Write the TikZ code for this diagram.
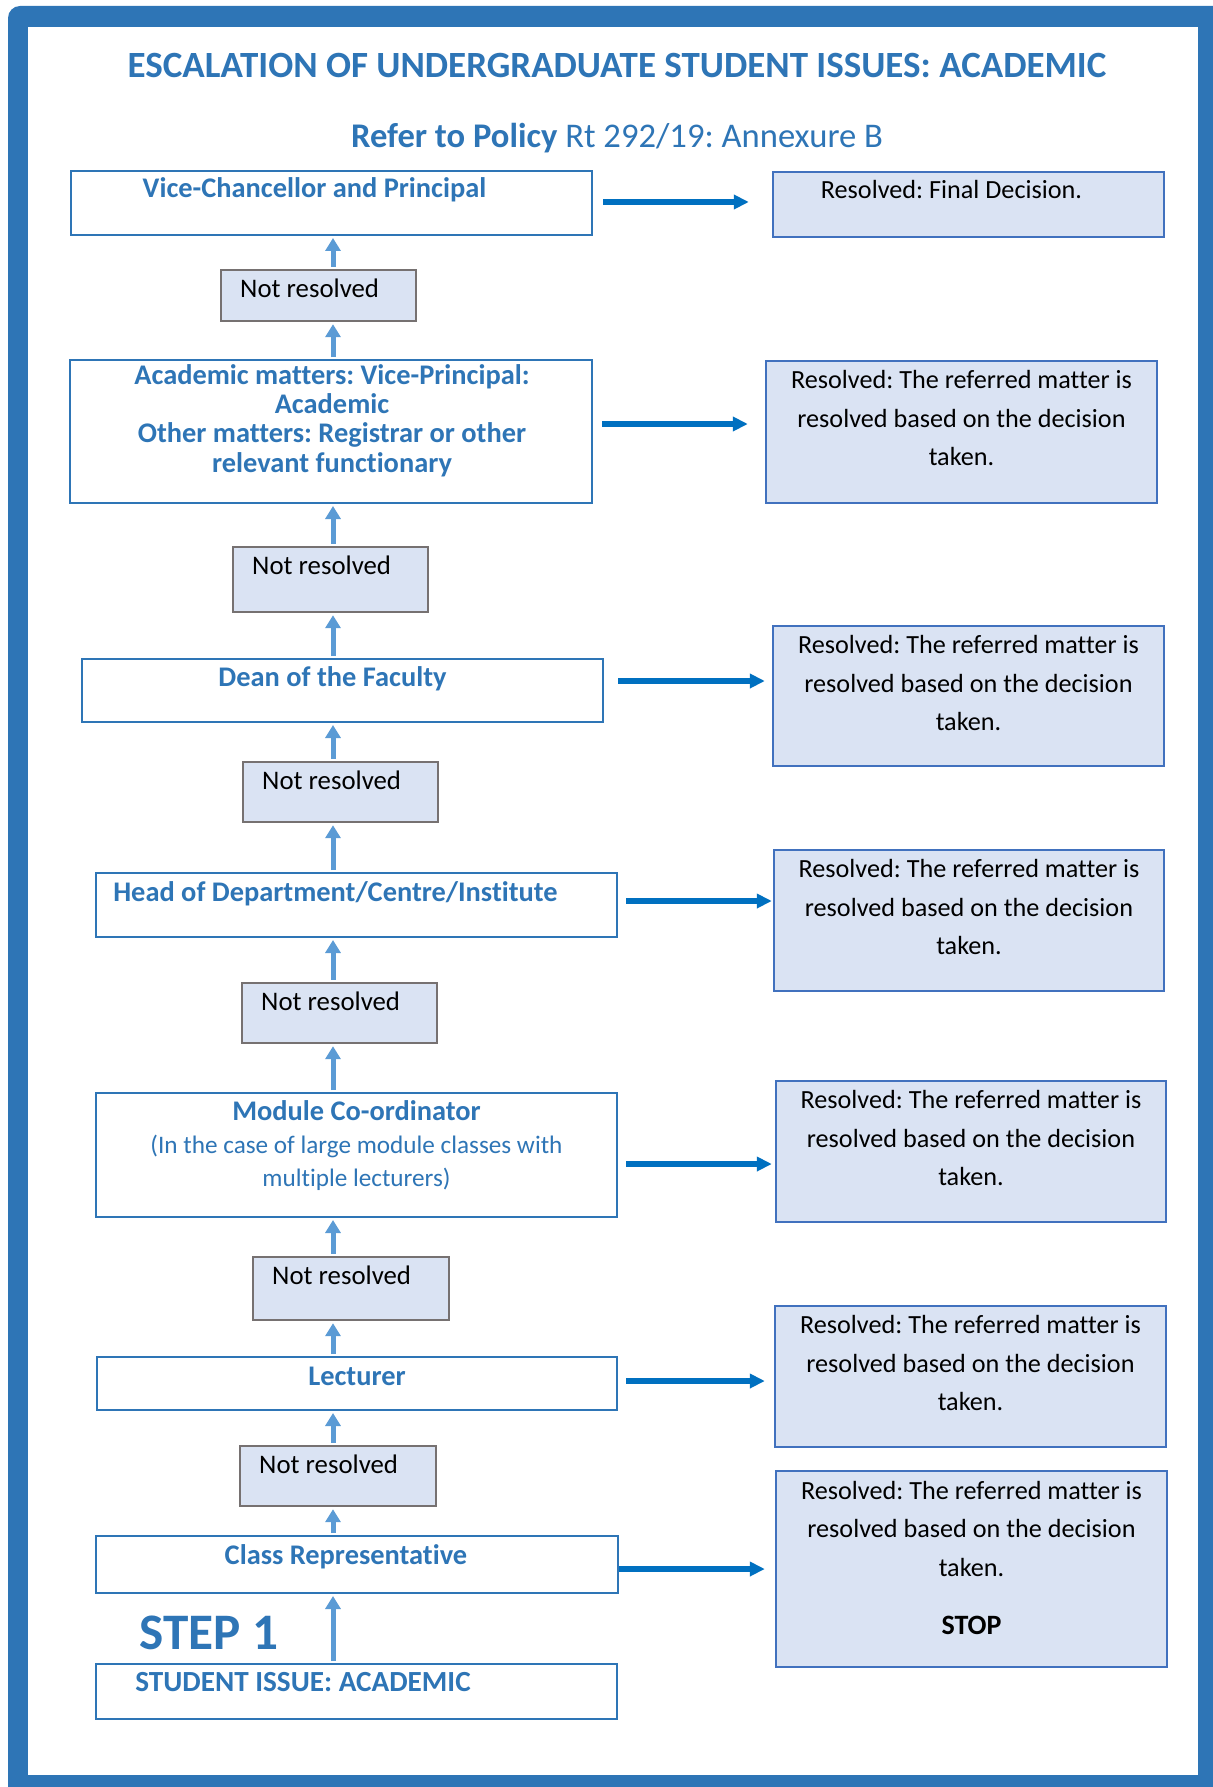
\documentclass[tikz,border=0pt]{standalone}
\usepackage{fontspec}
\setmainfont{Carlito}[Ligatures=NoCommon]
\frenchspacing
\usetikzlibrary{arrows.meta,calc,fit,positioning}
\definecolor{frameblue}{RGB}{46,117,182}
\definecolor{lineblue}{RGB}{65,113,190}
\definecolor{paleblue}{RGB}{218,227,243}
\definecolor{holdgrey}{RGB}{118,113,113}
\definecolor{upblue}{RGB}{91,155,213}
\definecolor{outblue}{RGB}{0,112,192}

\tikzset{
  stage/.style={draw=frameblue, line width=1pt, fill=white, inner sep=0pt},
  hold/.style={draw=holdgrey, line width=1.2pt, fill=paleblue, inner sep=0pt},
  outcome/.style={draw=lineblue, line width=1.2pt, fill=paleblue, inner sep=0pt},
  stagetxt/.style={anchor=base, inner sep=0pt, align=center, text=frameblue, font=\bfseries\fontsize{14.2}{14.65}\selectfont},
  holdtxt/.style={anchor=base west, inner sep=0pt, font=\fontsize{13.4}{16}\selectfont},
  outtxt/.style={anchor=base, inner sep=0pt, align=center, font=\fontsize{13.1}{19.25}\selectfont},
  upflow/.style={draw=upblue, line width=2.5pt, -{Triangle[width=7.5pt,length=6.5pt]}, shorten <=1pt, shorten >=1pt},
  outflow/.style={draw=outblue, line width=3pt, -{Triangle[width=7pt,length=7.5pt]}}
}

\begin{document}
\begin{tikzpicture}[x=0.5pt, y=-0.5pt]
    \useasboundingbox (0,0) rectangle (1213,1787);
    % frame
    \fill[frameblue] (1213,1787) -- (8,1787) [rounded corners=6pt] -- (8,6) [sharp corners] -- (1213,6) -- cycle;
    \fill[white] (28,27) rectangle (1198,1775);

    % headings
    \node[anchor=base, text=frameblue, font=\bfseries\fontsize{18.5}{22}\selectfont] (title) at (617,78) {ESCALATION OF UNDERGRADUATE STUDENT ISSUES: ACADEMIC};
    \node[anchor=base, text=frameblue, font=\fontsize{17.3}{20}\selectfont] (policy) at (617,148) {\textbf{Refer to Policy} Rt 292/19: Annexure B};

    % escalation steps
    \node[stage, fit={(71,171) (592,235)}] (vc) {};
    \node[stage, fit={(70,360) (592,503)}] (acad) {};
    \node[stage, fit={(82,659) (603,722)}] (dean) {};
    \node[stage, fit={(96,873) (617,937)}] (head) {};
    \node[stage, fit={(96,1093) (617,1217)}] (module) {};
    \node[stage, fit={(97,1357) (617,1410)}] (lecturer) {};
    \node[stage, fit={(96,1536) (618,1593)}] (classrep) {};
    \node[stage, fit={(96,1664) (617,1719)}] (student) {};

    % base of a multi-line text is its last line
    \node[stagetxt] (vc-txt) at ($(vc.north)+(-17,28)$) {Vice-Chancellor and Principal};
    \node[stagetxt] (acad-txt) at ($(acad.north)+(1,113)$) {Academic matters: Vice-Principal:\\Academic\\Other matters: Registrar or other\\relevant functionary};
    \node[stagetxt] (dean-txt) at ($(dean.north)+(-10,28)$) {Dean of the Faculty};
    \node[stagetxt] (head-txt) at ($(head.north)+(-21,29)$) {Head of Department/Centre/Institute};
    \node[stagetxt, font=\bfseries\fontsize{14.2}{16.5}\selectfont] (module-txt) at ($(module.north)+(0,94)$) {Module Co-ordinator\\{\mdseries\fontsize{12.6}{16.5}\selectfont (In the case of large module classes with}\\{\mdseries\fontsize{12.6}{16.5}\selectfont multiple lecturers)}};
    \node[stagetxt] (lecturer-txt) at ($(lecturer.north)+(0,29)$) {Lecturer};
    \node[stagetxt] (classrep-txt) at ($(classrep.north)+(-11,29)$) {Class Representative};
    \node[stagetxt, anchor=base west, font=\bfseries\fontsize{14.6}{16}\selectfont] (student-txt) at ($(student.north west)+(40,28)$) {STUDENT ISSUE: ACADEMIC};
    \node[anchor=base west, inner sep=0pt, text=frameblue, font=\bfseries\fontsize{25.6}{30}\selectfont] (step1) at (139,1649) {STEP 1};

    % not resolved
    \node[hold, fit={(221,270) (416,321)}] (nr1) {};
    \node[hold, fit={(233,547) (428,612)}] (nr2) {};
    \node[hold, fit={(243,762) (438,822)}] (nr3) {};
    \node[hold, fit={(242,983) (437,1043)}] (nr4) {};
    \node[hold, fit={(253,1257) (449,1320)}] (nr5) {};
    \node[hold, fit={(240,1446) (436,1506)}] (nr6) {};
    \foreach \n in {1,...,6}
        \node[holdtxt] (nr\n-txt) at ($(nr\n.north west)+(20,29)$) {Not resolved};

    % outcomes
    \node[outcome, fit={(773,172) (1164,237)}] (res1) {};
    \node[outcome, fit={(766,361) (1157,503)}] (res2) {};
    \node[outcome, fit={(773,626) (1164,766)}] (res3) {};
    \node[outcome, fit={(774,850) (1164,991)}] (res4) {};
    \node[outcome, fit={(776,1081) (1166,1222)}] (res5) {};
    \node[outcome, fit={(775,1306) (1166,1447)}] (res6) {};
    \node[outcome, fit={(776,1471) (1167,1667)}] (res7) {};

    \node[outtxt] (res1-txt) at ($(res1.north)+(-17,28)$) {Resolved: Final Decision.};
    \foreach \r in {2,...,6}
        \node[outtxt] (res\r-txt) at ($(res\r.north)+(0,106)$) {Resolved: The referred matter is\\resolved based on the decision\\taken.};
    \node[outtxt] (res7-txt) at ($(res7.north)+(0,165)$) {Resolved: The referred matter is\\resolved based on the decision\\taken.\\[10pt]{\bfseries\fontsize{14}{19.25}\selectfont STOP}};

    % upward chain
    \coordinate (spine) at (333,0);
    \foreach \lo/\hi in {student/classrep, classrep/nr6, nr6/lecturer, lecturer/nr5, nr5/module, module/nr4, nr4/head, head/nr3, nr3/dean, dean/nr2, nr2/acad, acad/nr1, nr1/vc}
        \draw[upflow] (\lo.north -| spine) -- (\hi.south -| spine);

    % resolved arrows
    \foreach \src/\dst/\dy/\sa/\sb in {vc/res1/-1/5/11.5, acad/res2/-7.5/4.5/8.5, dean/res3/-9.5/7/3.5, head/res4/-4/4/0.5, module/res5/9/4/1.5, lecturer/res6/-2.5/4/4.5, classrep/res7/4.5/0/5}
        \draw[outflow, shorten <=\sa pt, shorten >=\sb pt] ($(\src.east)+(0,\dy)$) coordinate (o) -- (o -| \dst.west);
\end{tikzpicture}
\end{document}
